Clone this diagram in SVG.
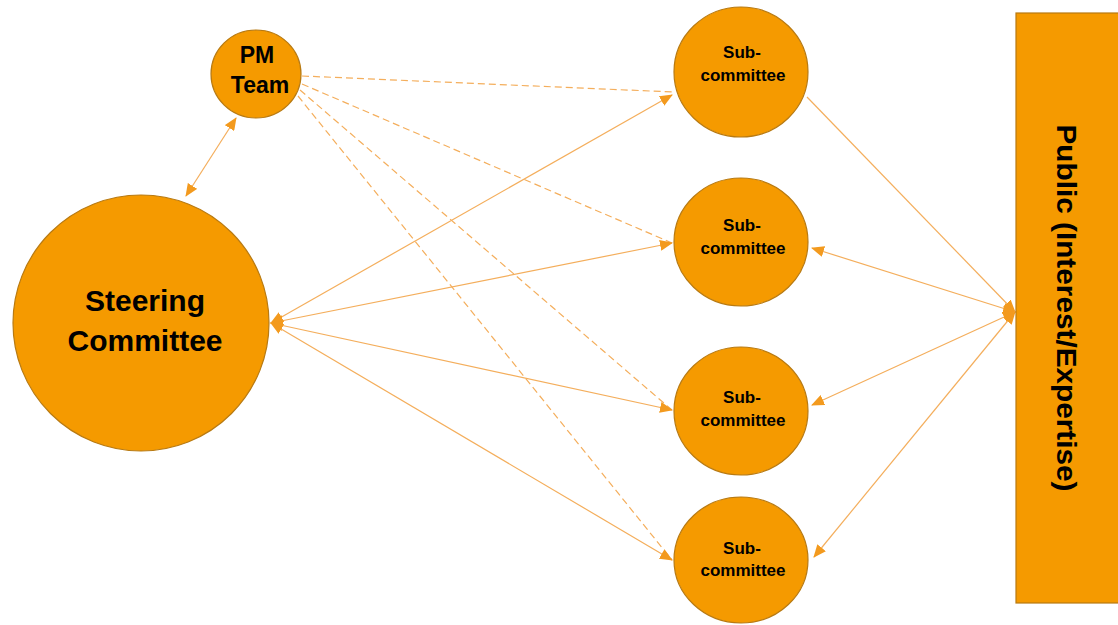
<svg xmlns="http://www.w3.org/2000/svg" width="1118" height="625" viewBox="0 0 1118 625">
<style>
.node{fill:#F59A00;stroke:#B87A12;stroke-width:1.2}
.lbl{font-family:"Liberation Sans",Arial,sans-serif;font-weight:bold;fill:#000;text-anchor:middle}
.c{stroke:#F4AE5C;stroke-width:1.2;fill:none}
.d{stroke:#F4AE5C;stroke-width:1.2;fill:none;stroke-dasharray:7 4}
</style>
<defs>
<marker id="ah" viewBox="0 0 13 11" refX="12" refY="5.5" markerWidth="13" markerHeight="11" markerUnits="userSpaceOnUse" orient="auto-start-reverse">
<path d="M0,0 L13,5.5 L0,11 z" fill="#F39A1E"/>
</marker>
</defs>
<rect width="1118" height="625" fill="#fff"/>
<g id="connectors">
<line class="c" x1="236" y1="118" x2="186" y2="196" marker-start="url(#ah)" marker-end="url(#ah)"/>
<line class="d" x1="302" y1="76" x2="673" y2="92"/>
<line class="d" x1="302" y1="84" x2="672" y2="243"/>
<line class="d" x1="300" y1="90" x2="672" y2="410"/>
<line class="d" x1="298" y1="96" x2="672" y2="560"/>
<line class="c" x1="271" y1="323" x2="672" y2="95" marker-start="url(#ah)" marker-end="url(#ah)"/>
<line class="c" x1="271" y1="323" x2="672" y2="243" marker-start="url(#ah)" marker-end="url(#ah)"/>
<line class="c" x1="271" y1="323" x2="672" y2="410" marker-start="url(#ah)" marker-end="url(#ah)"/>
<line class="c" x1="271" y1="323" x2="672" y2="560" marker-start="url(#ah)" marker-end="url(#ah)"/>
<line class="c" x1="807" y1="97" x2="1015" y2="312" marker-end="url(#ah)"/>
<line class="c" x1="1015" y1="312" x2="812" y2="248" marker-start="url(#ah)" marker-end="url(#ah)"/>
<line class="c" x1="1015" y1="312" x2="812" y2="405" marker-start="url(#ah)" marker-end="url(#ah)"/>
<line class="c" x1="1015" y1="312" x2="814" y2="557" marker-start="url(#ah)" marker-end="url(#ah)"/>
</g>
<g id="pm-team">
<ellipse class="node" cx="256" cy="74" rx="45" ry="44"/>
<text class="lbl" x="257" y="63" font-size="23">PM</text>
<text class="lbl" x="260" y="93" font-size="23">Team</text>
</g>
<g id="steering">
<circle class="node" cx="141" cy="323" r="128"/>
<text class="lbl" x="145" y="311" font-size="30">Steering</text>
<text class="lbl" x="145" y="351" font-size="30">Committee</text>
</g>
<g id="sub1">
<ellipse class="node" cx="741" cy="72" rx="67" ry="65"/>
<text class="lbl" x="742" y="58" font-size="17">Sub-</text>
<text class="lbl" x="743" y="81" font-size="17">committee</text>
</g>
<g id="sub2">
<ellipse class="node" cx="741" cy="242" rx="67" ry="64"/>
<text class="lbl" x="742" y="231" font-size="17">Sub-</text>
<text class="lbl" x="743" y="254" font-size="17">committee</text>
</g>
<g id="sub3">
<ellipse class="node" cx="741" cy="411" rx="67" ry="64"/>
<text class="lbl" x="742" y="403" font-size="17">Sub-</text>
<text class="lbl" x="743" y="426" font-size="17">committee</text>
</g>
<g id="sub4">
<ellipse class="node" cx="741" cy="560" rx="67" ry="63"/>
<text class="lbl" x="742" y="554" font-size="17">Sub-</text>
<text class="lbl" x="743" y="576" font-size="17">committee</text>
</g>
<g id="public">
<rect class="node" x="1016" y="13" width="108" height="590"/>
<text class="lbl" transform="translate(1067,308) rotate(90)" x="0" y="10" font-size="28" textLength="367" lengthAdjust="spacingAndGlyphs">Public (Interest/Expertise)</text>
</g>
</svg>
